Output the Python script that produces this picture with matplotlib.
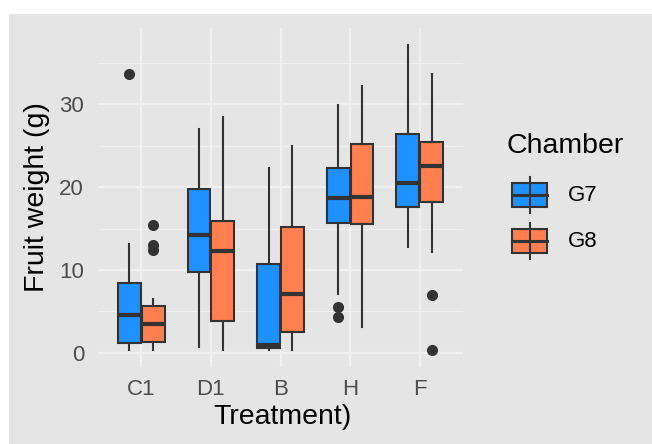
import matplotlib
matplotlib.use('Agg')
import matplotlib.pyplot as plt
from matplotlib.patches import Rectangle
import numpy as np

# data (box stats per treatment)
treatments = ['C1', 'D1', 'B', 'H', 'F']
chambers = ['G7', 'G8']
colors = {'G7': '#1E90FF', 'G8': '#FF7F50'}

g7_low = [0.4, 0.7, 0.4, 7.1, 12.8]
g7_q1 = [1.2, 9.8, 0.6, 15.7, 17.6]
g7_med = [4.6, 14.2, 1.0, 18.7, 20.5]
g7_q3 = [8.4, 19.8, 10.7, 22.3, 26.4]
g7_high = [13.2, 27.0, 22.3, 29.9, 37.2]
g7_out = [[33.6], [], [], [5.5, 4.3], []]

g8_low = [0.4, 0.4, 0.3, 3.1, 12.2]
g8_q1 = [1.3, 3.9, 2.5, 15.5, 18.2]
g8_med = [3.5, 12.3, 7.1, 18.8, 22.6]
g8_q3 = [5.7, 15.9, 15.2, 25.2, 25.4]
g8_high = [6.5, 28.5, 25.0, 32.2, 33.7]
g8_out = [[15.4, 13.0, 12.4], [], [], [], [7.0, 0.3]]

series = {
    'G7': (g7_low, g7_q1, g7_med, g7_q3, g7_high, g7_out),
    'G8': (g8_low, g8_q1, g8_med, g8_q3, g8_high, g8_out),
}

bg = '#E5E5E5'
grid_col = '#F0F0F0'
edge = '#333333'
plt.rcParams['font.family'] = ['Liberation Sans', 'DejaVu Sans']

fig = plt.figure(figsize=(6.52, 4.44), dpi=100)
fig.patch.set_facecolor('white')
fig.patches.append(Rectangle((9 / 652, 0), 1, 1 - 14 / 444, transform=fig.transFigure,
                             facecolor=bg, edgecolor='none', zorder=-10))

W, H = 652.0, 444.0
ax = fig.add_axes([98 / W, 1 - 367 / H, (463 - 98) / W, (367 - 28) / H])
ax.set_facecolor(bg)

offsets = {'G7': -0.17, 'G8': 0.17}
x = np.arange(1, len(treatments) + 1)
for ch in chambers:
    low, q1, med, q3, high, out = series[ch]
    stats = []
    for i in range(len(treatments)):
        stats.append({'whislo': low[i], 'q1': q1[i], 'med': med[i], 'q3': q3[i],
                      'whishi': high[i], 'fliers': out[i]})
    ax.bxp(stats, positions=x + offsets[ch], widths=0.33, patch_artist=True,
           showcaps=False, manage_ticks=False,
           boxprops=dict(facecolor=colors[ch], edgecolor=edge, linewidth=1.5),
           medianprops=dict(color=edge, linewidth=3),
           whiskerprops=dict(color=edge, linewidth=1.5),
           flierprops=dict(marker='o', markerfacecolor=edge, markeredgecolor=edge,
                           markersize=7))

ax.set_xlim(0.38, 5.62)
ax.set_ylim(-1.7, 39.2)
ax.set_xticks(x)
ax.set_xticklabels(treatments)
ax.set_yticks([0, 10, 20, 30])
ax.set_yticks([5, 15, 25, 35], minor=True)
ax.grid(True, which='major', color=grid_col, linewidth=1.6)
ax.grid(True, which='minor', axis='y', color=grid_col, linewidth=0.8)
ax.set_axisbelow(True)
for s in ax.spines.values():
    s.set_visible(False)
ax.tick_params(which='both', length=0, labelsize=16, labelcolor='#4D4D4D')
ax.tick_params(axis='x', pad=8.5)
ax.tick_params(axis='y', pad=10)

fig.text(37.5 / W, 1 - 197 / H, 'Fruit weight (g)', rotation=90, ha='center', va='center',
         fontsize=20.5, color='black')
fig.text(283 / W, 1 - 417 / H, 'Treatment)', ha='center', va='center',
         fontsize=20.5, color='black')

# legend drawn by hand, ggplot style
fig.text(507 / W, 1 - 146 / H, 'Chamber', ha='left', va='center', fontsize=20.5)
key_y = {'G7': 195, 'G8': 241}
for ch in chambers:
    yc = key_y[ch]
    fig.lines.append(plt.Line2D([529.5 / W, 529.5 / W], [1 - (yc - 18) / H, 1 - (yc + 18) / H],
                                transform=fig.transFigure, color=edge, linewidth=1.5))
    fig.patches.append(Rectangle((512 / W, 1 - (yc + 12) / H), 35 / W, 24 / H,
                                 transform=fig.transFigure, facecolor=colors[ch],
                                 edgecolor=edge, linewidth=1.5))
    fig.lines.append(plt.Line2D([512 / W, 547 / W], [1 - yc / H, 1 - yc / H],
                                transform=fig.transFigure, color=edge, linewidth=2.2))
    fig.text(568 / W, 1 - yc / H, ch, ha='left', va='center', fontsize=16)

plt.savefig('out.png', dpi=100)
